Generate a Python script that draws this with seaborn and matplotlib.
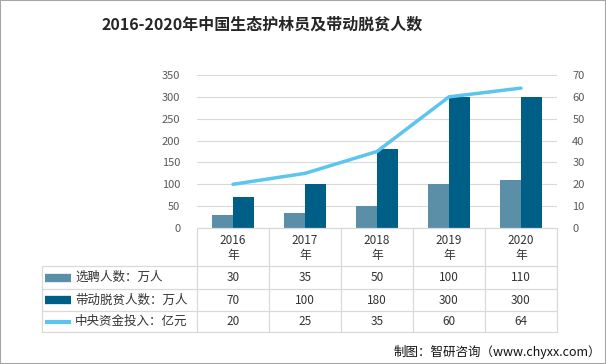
import pandas as pd
import numpy as np
import seaborn as sns
import matplotlib.pyplot as plt
from matplotlib.lines import Line2D
from matplotlib.patches import Rectangle

years = ["2016", "2017", "2018", "2019", "2020"]
hired = [30, 35, 50, 100, 110]          # 选聘人数：万人
lifted = [70, 100, 180, 300, 300]       # 带动脱贫人数：万人
funds = [20, 25, 35, 60, 64]            # 中央资金投入：亿元
names = ["选聘人数：万人", "带动脱贫人数：万人", "中央资金投入：亿元"]
colors = ["#5B8FA8", "#005F86", "#5BC5F0"]

sns.set_style("white")
plt.rcParams['font.family'] = ['Noto Sans CJK SC', 'DejaVu Sans']

df = pd.DataFrame({
    "year": years * 2,
    "series": [names[0]] * 5 + [names[1]] * 5,
    "value": hired + lifted,
})

W, H = 606, 364
fig = plt.figure(figsize=(W / 100, H / 100), dpi=100)
ax = fig.add_axes([197 / W, 1 - 228 / H, 360 / W, 153 / H])

sns.barplot(data=df, x="year", y="value", hue="series", palette=colors[:2],
            width=0.58, gap=0, linewidth=0, saturation=1, ax=ax, legend=False)
ax.set_xlim(-0.5, 4.5)
ax.set_ylim(0, 350)
ax.set_yticks(range(0, 351, 50))
ax.set_xticks([])
ax.set_xlabel("")
ax.set_ylabel("")
ax.tick_params(axis="y", length=0, pad=12, labelsize=8, labelcolor="#595959")
for v in range(50, 351, 50):
    ax.axhline(v, color="#D9D9D9", lw=0.8, zorder=0)
for s in ax.spines.values():
    s.set_visible(False)

ax2 = ax.twinx()
sns.lineplot(x=np.arange(len(years)), y=funds, color=colors[2], lw=2.5, ax=ax2)
ax2.set_xlim(-0.5, 4.5)
ax2.set_ylim(0, 70)
ax2.set_yticks(range(0, 71, 10))
ax2.tick_params(axis="y", length=0, pad=11, labelsize=8, labelcolor="#595959")
for s in ax2.spines.values():
    s.set_visible(False)

# data table under the plot (axes coordinates)
gc = "#D9D9D9"
tr = ax.transAxes
def px_y(y):
    return (228 - y) / 153
def px_x(x):
    return (x - 197) / 360
row_y = [px_y(228), px_y(266), px_y(289), px_y(311), px_y(332)]
xl = px_x(42)
kw = dict(transform=tr, clip_on=False, color=gc, lw=0.9)
ax.add_line(Line2D([0, 1], [row_y[0], row_y[0]], **kw))
for yy in row_y[1:]:
    ax.add_line(Line2D([xl, 1], [yy, yy], **kw))
ax.add_line(Line2D([xl, xl], [row_y[1], row_y[4]], **kw))
for i in range(6):
    ax.add_line(Line2D([i / 5, i / 5], [row_y[0], row_y[4]], **kw))

for i, yr in enumerate(years):
    cx = (i + 0.5) / 5
    ax.text(cx, px_y(241), yr, transform=tr, ha="center", va="center", fontsize=8.5, color="#333333")
    ax.text(cx, px_y(256), "年", transform=tr, ha="center", va="center", fontsize=8.5, color="#333333")

rows = [hired, lifted, funds]
for r, vals in enumerate(rows):
    cy = (row_y[r + 1] + row_y[r + 2]) / 2
    for i, v in enumerate(vals):
        ax.text((i + 0.5) / 5, cy, str(v), transform=tr, ha="center", va="center",
                fontsize=8.5, color="#333333")
    lw = 6 if r < 2 else 3
    ax.add_line(Line2D([px_x(45), px_x(71)], [cy, cy], transform=tr, clip_on=False,
                       color=colors[r], lw=lw, solid_capstyle="butt"))
    ax.text(px_x(75), cy, names[r], transform=tr, ha="left", va="center",
            fontsize=9, color="#333333")

fig.text(262 / W, 1 - 25 / H, "2016-2020年中国生态护林员及带动脱贫人数", ha="center",
         va="center", fontsize=11.5, fontweight="bold", color="#262626")
fig.text(601 / W, 1 - 352 / H, "制图：智研咨询（www.chyxx.com）", ha="right",
         va="center", fontsize=9, color="#111111")

fig.patches.append(Rectangle((0, 0), 1, 1, transform=fig.transFigure, fill=False,
                             edgecolor="#A6A6A6", lw=1.5))

fig.savefig("out.png", dpi=100)
